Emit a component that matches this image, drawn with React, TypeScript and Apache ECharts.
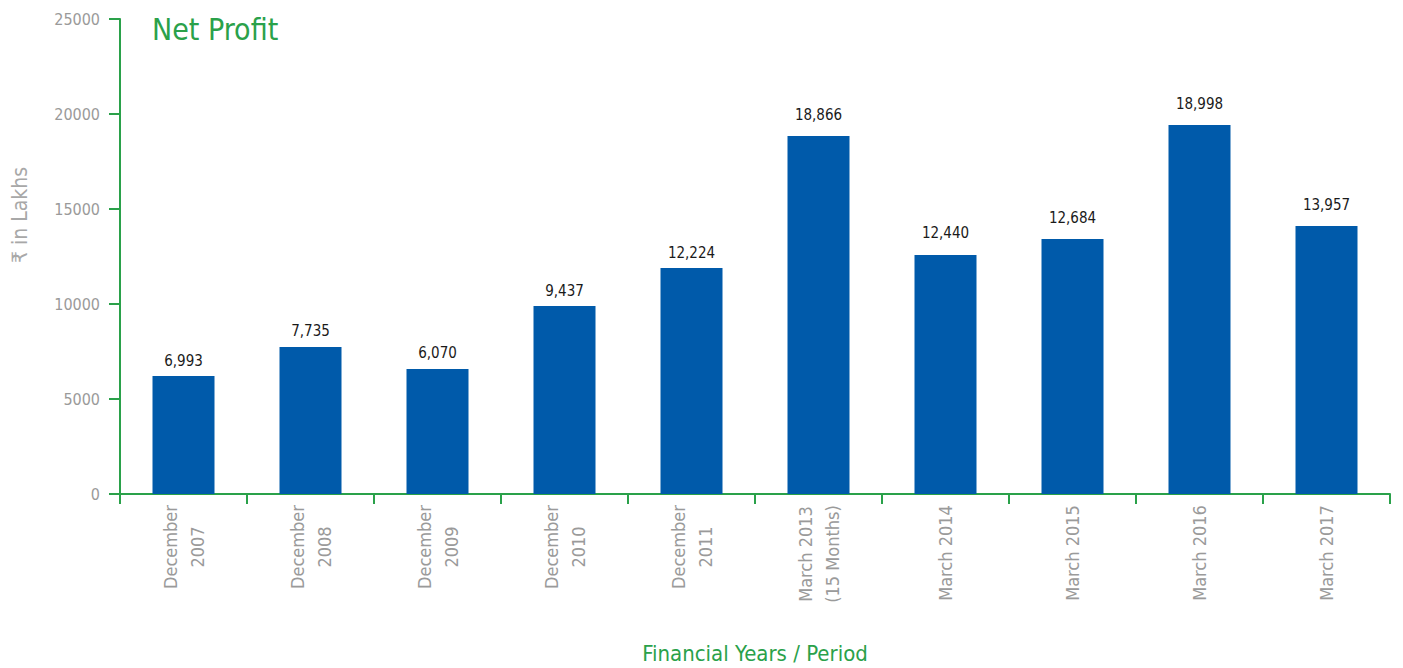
import React, { useEffect, useRef } from "react";
import * as echarts from "echarts";

const categories: string[] = [
  "December\n2007",
  "December\n2008",
  "December\n2009",
  "December\n2010",
  "December\n2011",
  "March 2013\n(15 Months)",
  "March 2014",
  "March 2015",
  "March 2016",
  "March 2017",
];
// bar heights as drawn in the picture
const barValues: number[] = [6210, 7740, 6580, 9890, 11890, 18840, 12580, 13420, 19420, 14100];
// values printed above the bars
const labelValues: number[] = [6993, 7735, 6070, 9437, 12224, 18866, 12440, 12684, 18998, 13957];
const yTicks: number[] = [0, 5000, 10000, 15000, 20000, 25000];

const FONT = "'DejaVu Sans Condensed', 'Liberation Sans', sans-serif";
const GREEN = "#2aa14a";
const GRAY = "#9a9a9a";
const BLUE = "#005aaa";
const XLAB_SIZE = 18;

function measure(text: string, size: number): number {
  const c = document.createElement("canvas");
  const ctx = c.getContext("2d");
  if (!ctx) return text.length * size * 0.5;
  ctx.font = `${size}px ${FONT}`;
  return ctx.measureText(text).width;
}

export default function App() {
  const ref = useRef<HTMLDivElement>(null);
  useEffect(() => {
    if (!ref.current) return;
    const chart = echarts.init(ref.current, undefined, { renderer: "svg" });
    const rich: Record<string, any> = {};
    categories.forEach((c, i) => {
      const w = Math.max(...c.split("\n").map((l) => measure(l, XLAB_SIZE)));
      rich["w" + i] = {
        width: Math.ceil(w),
        align: "center",
        fontFamily: FONT,
        fontSize: XLAB_SIZE,
        color: GRAY,
        lineHeight: 27,
      };
    });
    chart.setOption({
      animation: false,
      grid: { left: 120, right: 13, top: 19, bottom: 174, containLabel: false, outerBoundsMode: "none" },
      title: {
        text: "Net Profit",
        left: 147,
        top: 9,
        textStyle: { fontFamily: FONT, fontSize: 30, fontWeight: "normal", color: GREEN },
      },
      graphic: [
        {
          type: "text",
          x: 20,
          y: 215,
          rotation: Math.PI / 2,
          style: {
            text: "₹ in Lakhs",
            fontFamily: FONT,
            fontSize: 21,
            fill: "#a8a8a8",
            align: "center",
            verticalAlign: "middle",
          },
        },
      ],
      xAxis: {
        type: "category",
        data: categories,
        boundaryGap: true,
        name: "Financial Years / Period",
        nameLocation: "middle",
        nameGap: 148,
        nameTextStyle: { fontFamily: FONT, fontSize: 22, color: GREEN },
        axisLine: { lineStyle: { color: GREEN, width: 2 } },
        axisTick: { show: true, length: 10, alignWithLabel: false, lineStyle: { color: GREEN, width: 2 } },
        axisLabel: {
          rotate: 90,
          margin: 11,
          interval: 0,
          formatter: (v: string, i: number) =>
            v
              .split("\n")
              .map((l) => `{w${i}|${l}}`)
              .join("\n"),
          rich,
        },
      },
      yAxis: {
        type: "value",
        min: yTicks[0],
        max: yTicks[yTicks.length - 1],
        interval: yTicks[1] - yTicks[0],
        splitLine: { show: false },
        axisLine: { show: true, lineStyle: { color: GREEN, width: 2 } },
        axisTick: { show: true, length: 11, lineStyle: { color: GREEN, width: 2 } },
        axisLabel: {
          margin: 20,
          fontFamily: FONT,
          fontSize: 16,
          color: GRAY,
          formatter: (v: number) => String(v),
        },
      },
      series: [
        {
          type: "bar",
          barWidth: 62,
          itemStyle: { color: BLUE },
          data: barValues.map((v, i) => ({
            value: v,
            label: { distance: i < 5 ? 8 : 14 },
          })),
          label: {
            show: true,
            position: "top",
            fontFamily: FONT,
            fontSize: 15,
            color: "#1a1a1a",
            formatter: (p: any) => labelValues[p.dataIndex].toLocaleString("en-US"),
          },
        },
      ],
    });
    return () => chart.dispose();
  }, []);
  return (
    <div
      ref={ref}
      style={{ position: "fixed", left: 0, top: 0, width: 1403, height: 668, background: "#fff" }}
    />
  );
}
